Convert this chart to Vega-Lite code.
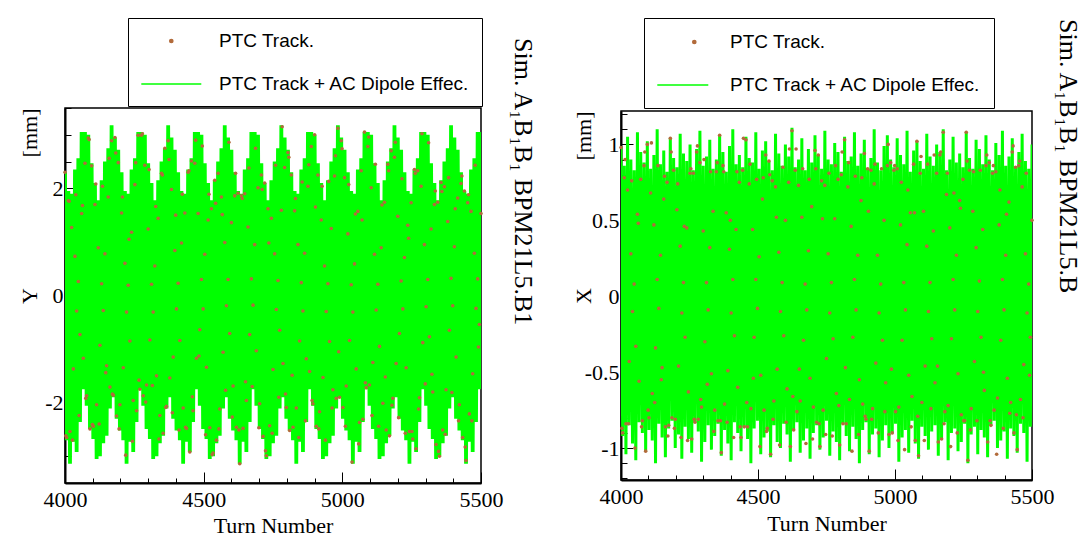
{
"$schema":"https://vega.github.io/schema/vega-lite/v6.json",
"background":"white",
"padding":{"left":17,"top":16,"right":2,"bottom":5},
"spacing":140,
"bounds":"flush",
"center":true,
"resolve":{"scale":{"x":"independent","y":"independent","color":"independent"},"legend":{"color":"independent"},"axis":{"x":"independent","y":"independent"}},
"datasets":{
"left":[
{"t":4000,"g":2.3,"p":2.3},{"t":4006,"g":-2.7,"p":-2.65},{"t":4012,"g":1.95,"p":1.77},{"t":4018,"g":-3.14,"p":-2.54},{"t":4024,"g":1.9,"p":1.27},{"t":4030,"g":-2.73,"p":-1.37},{"t":4036,"g":2.35,"p":0.73},{"t":4042,"g":-2.92,"p":-0.29},{"t":4048,"g":2.56,"p":0.26},{"t":4054,"g":-2.36,"p":-0.73},
{"t":4060,"g":3.05,"p":1.53},{"t":4066,"g":-1.75,"p":-1.17},{"t":4072,"g":3.05,"p":2.47},{"t":4078,"g":-2.06,"p":-1.87},{"t":4084,"g":3.0,"p":2.94},{"t":4090,"g":-2.49,"p":-2.49},{"t":4096,"g":2.47,"p":2.42},{"t":4102,"g":-2.68,"p":-2.44},{"t":4108,"g":2.1,"p":1.7},{"t":4114,"g":-3.05,"p":-2.04},
{"t":4120,"g":1.78,"p":0.89},{"t":4126,"g":-3.0,"p":-0.93},{"t":4132,"g":2.15,"p":0.22},{"t":4138,"g":-2.76,"p":-0.28},{"t":4144,"g":2.5,"p":0.78},{"t":4150,"g":-2.62,"p":-1.31},{"t":4156,"g":2.75,"p":1.84},{"t":4162,"g":-2.11,"p":-1.71},{"t":4168,"g":3.18,"p":2.89},{"t":4174,"g":-1.9,"p":-1.86},
{"t":4180,"g":2.95,"p":2.95},{"t":4186,"g":-2.3,"p":-2.25},{"t":4192,"g":2.72,"p":2.48},{"t":4198,"g":-2.52,"p":-2.04},{"t":4204,"g":2.3,"p":1.54},{"t":4210,"g":-2.7,"p":-1.35},{"t":4216,"g":1.95,"p":0.6},{"t":4222,"g":-3.14,"p":-0.31},{"t":4228,"g":1.9,"p":0.19},{"t":4234,"g":-2.73,"p":-0.85},
{"t":4240,"g":2.35,"p":1.18},{"t":4246,"g":-2.92,"p":-1.96},{"t":4252,"g":2.56,"p":2.07},{"t":4258,"g":-2.36,"p":-2.15},{"t":4264,"g":3.05,"p":2.99},{"t":4270,"g":-1.75,"p":-1.75},{"t":4276,"g":3.05,"p":2.99},{"t":4282,"g":-2.06,"p":-1.87},{"t":4288,"g":3.0,"p":2.43},{"t":4294,"g":-2.49,"p":-1.67},
{"t":4300,"g":2.47,"p":1.24},{"t":4306,"g":-2.68,"p":-0.83},{"t":4312,"g":2.1,"p":0.21},{"t":4318,"g":-3.05,"p":-0.31},{"t":4324,"g":1.78,"p":0.55},{"t":4330,"g":-3.0,"p":-1.5},{"t":4336,"g":2.15,"p":1.44},{"t":4342,"g":-2.76,"p":-2.24},{"t":4348,"g":2.5,"p":2.28},{"t":4354,"g":-2.62,"p":-2.57},
{"t":4360,"g":2.75,"p":2.75},{"t":4366,"g":-2.11,"p":-2.07},{"t":4372,"g":3.18,"p":2.89},{"t":4378,"g":-1.9,"p":-1.54},{"t":4384,"g":2.95,"p":1.98},{"t":4390,"g":-2.3,"p":-1.15},{"t":4396,"g":2.72,"p":0.84},{"t":4402,"g":-2.52,"p":-0.25},{"t":4408,"g":2.3,"p":0.23},{"t":4414,"g":-2.7,"p":-0.84},
{"t":4420,"g":1.95,"p":0.98},{"t":4426,"g":-3.14,"p":-2.1},{"t":4432,"g":1.9,"p":1.54},{"t":4438,"g":-2.73,"p":-2.48},{"t":4444,"g":2.35,"p":2.3},{"t":4450,"g":-2.92,"p":-2.92},{"t":4456,"g":2.56,"p":2.51},{"t":4462,"g":-2.36,"p":-2.15},{"t":4468,"g":3.05,"p":2.47},{"t":4474,"g":-1.75,"p":-1.17},
{"t":4480,"g":3.05,"p":1.53},{"t":4486,"g":-2.06,"p":-0.64},{"t":4492,"g":3.0,"p":0.3},{"t":4498,"g":-2.49,"p":-0.25},{"t":4504,"g":2.47,"p":0.77},{"t":4510,"g":-2.68,"p":-1.34},{"t":4516,"g":2.1,"p":1.41},{"t":4522,"g":-3.05,"p":-2.47},{"t":4528,"g":1.78,"p":1.62},{"t":4534,"g":-3.0,"p":-2.94},
{"t":4540,"g":2.15,"p":2.15},{"t":4546,"g":-2.76,"p":-2.7},{"t":4552,"g":2.5,"p":2.28},{"t":4558,"g":-2.62,"p":-2.12},{"t":4564,"g":2.75,"p":1.84},{"t":4570,"g":-2.11,"p":-1.06},{"t":4576,"g":3.18,"p":0.99},{"t":4582,"g":-1.9,"p":-0.19},{"t":4588,"g":2.95,"p":0.3},{"t":4594,"g":-2.3,"p":-0.71},
{"t":4600,"g":2.72,"p":1.36},{"t":4606,"g":-2.52,"p":-1.69},{"t":4612,"g":2.3,"p":1.86},{"t":4618,"g":-2.7,"p":-2.46},{"t":4624,"g":1.95,"p":1.91},{"t":4630,"g":-3.14,"p":-3.14},{"t":4636,"g":1.9,"p":1.86},{"t":4642,"g":-2.73,"p":-2.48},{"t":4648,"g":2.35,"p":1.9},{"t":4654,"g":-2.92,"p":-1.96},
{"t":4660,"g":2.56,"p":1.28},{"t":4666,"g":-2.36,"p":-0.73},{"t":4672,"g":3.05,"p":0.31},{"t":4678,"g":-1.75,"p":-0.18},{"t":4684,"g":3.05,"p":0.95},{"t":4690,"g":-2.06,"p":-1.03},{"t":4696,"g":3.0,"p":2.01},{"t":4702,"g":-2.49,"p":-2.02},{"t":4708,"g":2.47,"p":2.25},{"t":4714,"g":-2.68,"p":-2.63},
{"t":4720,"g":2.1,"p":2.1},{"t":4726,"g":-3.05,"p":-2.99},{"t":4732,"g":1.78,"p":1.62},{"t":4738,"g":-3.0,"p":-2.43},{"t":4744,"g":2.15,"p":1.44},{"t":4750,"g":-2.76,"p":-1.38},{"t":4756,"g":2.5,"p":0.78},{"t":4762,"g":-2.62,"p":-0.26},{"t":4768,"g":2.75,"p":0.28},{"t":4774,"g":-2.11,"p":-0.65},
{"t":4780,"g":3.18,"p":1.59},{"t":4786,"g":-1.9,"p":-1.27},{"t":4792,"g":2.95,"p":2.39},{"t":4798,"g":-2.3,"p":-2.09},{"t":4804,"g":2.72,"p":2.67},{"t":4810,"g":-2.52,"p":-2.52},{"t":4816,"g":2.3,"p":2.25},{"t":4822,"g":-2.7,"p":-2.46},{"t":4828,"g":1.95,"p":1.58},{"t":4834,"g":-3.14,"p":-2.1},
{"t":4840,"g":1.9,"p":0.95},{"t":4846,"g":-2.73,"p":-0.85},{"t":4852,"g":2.35,"p":0.24},{"t":4858,"g":-2.92,"p":-0.29},{"t":4864,"g":2.56,"p":0.79},{"t":4870,"g":-2.36,"p":-1.18},{"t":4876,"g":3.05,"p":2.04},{"t":4882,"g":-1.75,"p":-1.42},{"t":4888,"g":3.05,"p":2.78},{"t":4894,"g":-2.06,"p":-2.02},
{"t":4900,"g":3.0,"p":3.0},{"t":4906,"g":-2.49,"p":-2.44},{"t":4912,"g":2.47,"p":2.25},{"t":4918,"g":-2.68,"p":-2.17},{"t":4924,"g":2.1,"p":1.41},{"t":4930,"g":-3.05,"p":-1.53},{"t":4936,"g":1.78,"p":0.55},{"t":4942,"g":-3.0,"p":-0.3},{"t":4948,"g":2.15,"p":0.22},{"t":4954,"g":-2.76,"p":-0.86},
{"t":4960,"g":2.5,"p":1.25},{"t":4966,"g":-2.62,"p":-1.76},{"t":4972,"g":2.75,"p":2.23},{"t":4978,"g":-2.11,"p":-1.92},{"t":4984,"g":3.18,"p":3.12},{"t":4990,"g":-1.9,"p":-1.9},{"t":4996,"g":2.95,"p":2.89},{"t":5002,"g":-2.3,"p":-2.09},{"t":5008,"g":2.72,"p":2.2},{"t":5014,"g":-2.52,"p":-1.69},
{"t":5020,"g":2.3,"p":1.15},{"t":5026,"g":-2.7,"p":-0.84},{"t":5032,"g":1.95,"p":0.2},{"t":5038,"g":-3.14,"p":-0.31},{"t":5044,"g":1.9,"p":0.59},{"t":5050,"g":-2.73,"p":-1.37},{"t":5056,"g":2.35,"p":1.57},{"t":5062,"g":-2.92,"p":-2.37},{"t":5068,"g":2.56,"p":2.33},{"t":5074,"g":-2.36,"p":-2.31},
{"t":5080,"g":3.05,"p":3.05},{"t":5086,"g":-1.75,"p":-1.72},{"t":5092,"g":3.05,"p":2.78},{"t":5098,"g":-2.06,"p":-1.67},{"t":5104,"g":3.0,"p":2.01},{"t":5110,"g":-2.49,"p":-1.25},{"t":5116,"g":2.47,"p":0.77},{"t":5122,"g":-2.68,"p":-0.27},{"t":5128,"g":2.1,"p":0.21},{"t":5134,"g":-3.05,"p":-0.95},
{"t":5140,"g":1.78,"p":0.89},{"t":5146,"g":-3.0,"p":-2.01},{"t":5152,"g":2.15,"p":1.74},{"t":5158,"g":-2.76,"p":-2.51},{"t":5164,"g":2.5,"p":2.45},{"t":5170,"g":-2.62,"p":-2.62},{"t":5176,"g":2.75,"p":2.7},{"t":5182,"g":-2.11,"p":-1.92},{"t":5188,"g":3.18,"p":2.58},{"t":5194,"g":-1.9,"p":-1.27},
{"t":5200,"g":2.95,"p":1.48},{"t":5206,"g":-2.3,"p":-0.71},{"t":5212,"g":2.72,"p":0.27},{"t":5218,"g":-2.52,"p":-0.25},{"t":5224,"g":2.3,"p":0.71},{"t":5230,"g":-2.7,"p":-1.35},{"t":5236,"g":1.95,"p":1.31},{"t":5242,"g":-3.14,"p":-2.54},{"t":5248,"g":1.9,"p":1.73},{"t":5254,"g":-2.73,"p":-2.68},
{"t":5260,"g":2.35,"p":2.35},{"t":5266,"g":-2.92,"p":-2.86},{"t":5272,"g":2.56,"p":2.33},{"t":5278,"g":-2.36,"p":-1.91},{"t":5284,"g":3.05,"p":2.04},{"t":5290,"g":-1.75,"p":-0.88},{"t":5296,"g":3.05,"p":0.95},{"t":5302,"g":-2.06,"p":-0.21},{"t":5308,"g":3.0,"p":0.3},{"t":5314,"g":-2.49,"p":-0.77},
{"t":5320,"g":2.47,"p":1.24},{"t":5326,"g":-2.68,"p":-1.8},{"t":5332,"g":2.1,"p":1.7},{"t":5338,"g":-3.05,"p":-2.78},{"t":5344,"g":1.78,"p":1.74},{"t":5350,"g":-3.0,"p":-3.0},{"t":5356,"g":2.15,"p":2.11},{"t":5362,"g":-2.76,"p":-2.51},{"t":5368,"g":2.5,"p":2.03},{"t":5374,"g":-2.62,"p":-1.76},
{"t":5380,"g":2.75,"p":1.38},{"t":5386,"g":-2.11,"p":-0.65},{"t":5392,"g":3.18,"p":0.32},{"t":5398,"g":-1.9,"p":-0.19},{"t":5404,"g":2.95,"p":0.91},{"t":5410,"g":-2.3,"p":-1.15},{"t":5416,"g":2.72,"p":1.82},{"t":5422,"g":-2.52,"p":-2.04},{"t":5428,"g":2.3,"p":2.09},{"t":5434,"g":-2.7,"p":-2.65},
{"t":5440,"g":1.95,"p":1.95},{"t":5446,"g":-3.14,"p":-3.08},{"t":5452,"g":1.9,"p":1.73},{"t":5458,"g":-2.73,"p":-2.21},{"t":5464,"g":2.35,"p":1.57},{"t":5470,"g":-2.92,"p":-1.46},{"t":5476,"g":2.56,"p":0.79},{"t":5482,"g":-2.36,"p":-0.24},{"t":5488,"g":3.05,"p":0.31},{"t":5494,"g":-1.75,"p":-0.54},
{"t":5500,"g":3.05,"p":1.53}
],
"left2":[
{"t":4003,"p":-2.62},{"t":4015,"p":1.76},{"t":4027,"p":-2.7},{"t":4039,"p":1.88},{"t":4051,"p":-2.24},{"t":4063,"p":1.68},{"t":4075,"p":-1.92},{"t":4087,"p":2.91},{"t":4099,"p":-2.41},{"t":4111,"p":2.08},
{"t":4123,"p":-2.4},{"t":4135,"p":2.04},{"t":4147,"p":-1.44},{"t":4159,"p":2.56},{"t":4171,"p":-1.84},{"t":4183,"p":2.66},{"t":4195,"p":-2.49},{"t":4207,"p":1.84},{"t":4219,"p":-2.98},{"t":4231,"p":1.05},
{"t":4243,"p":-2.72},{"t":4255,"p":2.48},{"t":4267,"p":-1.58},{"t":4279,"p":3.02},{"t":4291,"p":-1.99},{"t":4303,"p":2.35},{"t":4315,"p":-1.68},{"t":4327,"p":1.66},{"t":4339,"p":-2.68},{"t":4351,"p":2.25},
{"t":4363,"p":-2.09},{"t":4375,"p":2.54},{"t":4387,"p":-2.19},{"t":4399,"p":1.5},{"t":4411,"p":-2.51},{"t":4423,"p":1.89},{"t":4435,"p":-2.46},{"t":4447,"p":2.33},{"t":4459,"p":-1.89},{"t":4471,"p":2.9},
{"t":4483,"p":-1.13},{"t":4495,"p":2.79},{"t":4507,"p":-2.6},{"t":4519,"p":1.89},{"t":4531,"p":-2.97},{"t":4543,"p":1.72},{"t":4555,"p":-2.49},{"t":4567,"p":1.51},{"t":4579,"p":-1.77},{"t":4591,"p":2.86},
{"t":4603,"p":-2.27},{"t":4615,"p":2.28},{"t":4627,"p":-2.51},{"t":4639,"p":1.81},{"t":4651,"p":-1.61},{"t":4663,"p":2.38},{"t":4675,"p":-1.7},{"t":4687,"p":2.75},{"t":4699,"p":-2.47},{"t":4711,"p":1.98},
{"t":4723,"p":-2.9},{"t":4735,"p":0.98},{"t":4747,"p":-2.57},{"t":4759,"p":2.43},{"t":4771,"p":-1.9},{"t":4783,"p":3.15},{"t":4795,"p":-1.84},{"t":4807,"p":2.58},{"t":4819,"p":-1.49},{"t":4831,"p":1.81},
{"t":4843,"p":-2.65},{"t":4855,"p":2.12},{"t":4867,"p":-2.34},{"t":4879,"p":2.44},{"t":4891,"p":-1.96},{"t":4903,"p":1.65},{"t":4915,"p":-2.49},{"t":4927,"p":2.04},{"t":4939,"p":-2.7},{"t":4951,"p":2.13},
{"t":4963,"p":-2.1},{"t":4975,"p":2.61},{"t":4987,"p":-1.05},{"t":4999,"p":2.74},{"t":5011,"p":-2.44},{"t":5023,"p":2.07},{"t":5035,"p":-3.11},{"t":5047,"p":1.52},{"t":5059,"p":-2.77},{"t":5071,"p":1.41},
{"t":5083,"p":-1.63},{"t":5095,"p":2.96},{"t":5107,"p":-2.24},{"t":5119,"p":2.45},{"t":5131,"p":-2.44},{"t":5143,"p":1.69},{"t":5155,"p":-1.52},{"t":5167,"p":2.33},{"t":5179,"p":-2.05},{"t":5191,"p":2.86},
{"t":5203,"p":-2.28},{"t":5215,"p":2.18},{"t":5227,"p":-2.57},{"t":5239,"p":1.07},{"t":5251,"p":-2.54},{"t":5263,"p":2.28},{"t":5275,"p":-2.12},{"t":5287,"p":3.02},{"t":5299,"p":-1.65},{"t":5311,"p":2.85},
{"t":5323,"p":-1.47},{"t":5335,"p":1.95},{"t":5347,"p":-2.91},{"t":5359,"p":1.94},{"t":5371,"p":-2.59},{"t":5383,"p":2.2},{"t":5395,"p":-1.81},{"t":5407,"p":1.62},{"t":5419,"p":-2.34},{"t":5431,"p":2.23},
{"t":5443,"p":-2.83},{"t":5455,"p":1.88},{"t":5467,"p":-2.34},{"t":5479,"p":2.43},{"t":5491,"p":-0.96}
],
"right":[
{"t":4000,"g":0.98,"p":0.98},{"t":4006,"g":-0.92,"p":-0.9},{"t":4012,"g":0.86,"p":0.78},{"t":4018,"g":-1.04,"p":-0.84},{"t":4024,"g":1.05,"p":0.7},{"t":4030,"g":-0.85,"p":-0.43},{"t":4036,"g":0.9,"p":0.28},{"t":4042,"g":-0.97,"p":-0.1},{"t":4048,"g":0.83,"p":0.08},{"t":4054,"g":-1.08,"p":-0.33},
{"t":4060,"g":1.08,"p":0.54},{"t":4066,"g":-0.83,"p":-0.56},{"t":4072,"g":0.95,"p":0.77},{"t":4078,"g":-0.9,"p":-0.82},{"t":4084,"g":0.88,"p":0.86},{"t":4090,"g":-1.02,"p":-1.02},{"t":4096,"g":1.02,"p":1.0},{"t":4102,"g":-0.88,"p":-0.8},{"t":4108,"g":0.84,"p":0.68},{"t":4114,"g":-0.95,"p":-0.64},
{"t":4120,"g":0.93,"p":0.47},{"t":4126,"g":-1.1,"p":-0.34},{"t":4132,"g":1.1,"p":0.11},{"t":4138,"g":-0.84,"p":-0.08},{"t":4144,"g":0.87,"p":0.27},{"t":4150,"g":-0.93,"p":-0.47},{"t":4156,"g":0.96,"p":0.64},{"t":4162,"g":-1.06,"p":-0.86},{"t":4168,"g":0.82,"p":0.75},{"t":4174,"g":-0.87,"p":-0.85},
{"t":4180,"g":1.04,"p":1.04},{"t":4186,"g":-0.82,"p":-0.8},{"t":4192,"g":0.91,"p":0.83},{"t":4198,"g":-1.0,"p":-0.81},{"t":4204,"g":0.85,"p":0.57},{"t":4210,"g":-0.91,"p":-0.46},{"t":4216,"g":1.07,"p":0.33},{"t":4222,"g":-1.07,"p":-0.11},{"t":4228,"g":0.94,"p":0.09},{"t":4234,"g":-0.86,"p":-0.27},
{"t":4240,"g":0.89,"p":0.45},{"t":4246,"g":-0.94,"p":-0.63},{"t":4252,"g":1.0,"p":0.81},{"t":4258,"g":-1.03,"p":-0.94},{"t":4264,"g":0.83,"p":0.81},{"t":4270,"g":-0.83,"p":-0.83},{"t":4276,"g":0.97,"p":0.95},{"t":4282,"g":-0.89,"p":-0.81},{"t":4288,"g":1.09,"p":0.88},{"t":4294,"g":-1.09,"p":-0.73},
{"t":4300,"g":0.86,"p":0.43},{"t":4306,"g":-0.96,"p":-0.3},{"t":4312,"g":0.92,"p":0.09},{"t":4318,"g":-0.85,"p":-0.09},{"t":4324,"g":1.03,"p":0.32},{"t":4330,"g":-1.01,"p":-0.51},{"t":4336,"g":0.84,"p":0.56},{"t":4342,"g":-0.92,"p":-0.75},{"t":4348,"g":0.9,"p":0.82},{"t":4354,"g":-0.84,"p":-0.82},
{"t":4360,"g":1.06,"p":1.06},{"t":4366,"g":-1.05,"p":-1.03},{"t":4372,"g":0.95,"p":0.86},{"t":4378,"g":-0.88,"p":-0.71},{"t":4384,"g":0.82,"p":0.55},{"t":4390,"g":-0.97,"p":-0.49},{"t":4396,"g":0.99,"p":0.31},{"t":4402,"g":-1.08,"p":-0.11},{"t":4408,"g":1.1,"p":0.11},{"t":4414,"g":-0.83,"p":-0.26},
{"t":4420,"g":0.87,"p":0.44},{"t":4426,"g":-0.9,"p":-0.6},{"t":4432,"g":0.93,"p":0.75},{"t":4438,"g":-1.02,"p":-0.93},{"t":4444,"g":0.85,"p":0.83},{"t":4450,"g":-0.86,"p":-0.86},{"t":4456,"g":1.05,"p":1.03},{"t":4462,"g":-0.94,"p":-0.86},{"t":4468,"g":0.91,"p":0.74},{"t":4474,"g":-1.1,"p":-0.74},
{"t":4480,"g":0.88,"p":0.44},{"t":4486,"g":-0.87,"p":-0.27},{"t":4492,"g":1.08,"p":0.11},{"t":4498,"g":-0.82,"p":-0.08},{"t":4504,"g":0.84,"p":0.26},{"t":4510,"g":-1.04,"p":-0.52},{"t":4516,"g":0.96,"p":0.64},{"t":4522,"g":-0.93,"p":-0.75},{"t":4528,"g":1.02,"p":0.93},{"t":4534,"g":-0.89,"p":-0.87},
{"t":4540,"g":0.89,"p":0.89},{"t":4546,"g":-1.06,"p":-1.04},{"t":4552,"g":0.83,"p":0.76},{"t":4558,"g":-0.85,"p":-0.69},{"t":4564,"g":1.07,"p":0.72},{"t":4570,"g":-0.96,"p":-0.48},{"t":4576,"g":0.94,"p":0.29},{"t":4582,"g":-1.0,"p":-0.1},{"t":4588,"g":0.86,"p":0.09},{"t":4594,"g":-0.84,"p":-0.26},
{"t":4600,"g":1.0,"p":0.5},{"t":4606,"g":-0.91,"p":-0.61},{"t":4612,"g":0.92,"p":0.75},{"t":4618,"g":-1.09,"p":-0.99},{"t":4624,"g":1.11,"p":1.09},{"t":4630,"g":-0.88,"p":-0.88},{"t":4636,"g":0.85,"p":0.83},{"t":4642,"g":-0.83,"p":-0.76},{"t":4648,"g":0.9,"p":0.73},{"t":4654,"g":-1.03,"p":-0.69},
{"t":4660,"g":1.04,"p":0.52},{"t":4666,"g":-0.95,"p":-0.29},{"t":4672,"g":0.83,"p":0.08},{"t":4678,"g":-0.87,"p":-0.09},{"t":4684,"g":0.97,"p":0.3},{"t":4690,"g":-1.07,"p":-0.54},{"t":4696,"g":0.88,"p":0.59},{"t":4702,"g":-0.9,"p":-0.73},{"t":4708,"g":1.06,"p":0.96},{"t":4714,"g":-0.85,"p":-0.83},
{"t":4720,"g":0.93,"p":0.93},{"t":4726,"g":-1.01,"p":-0.99},{"t":4732,"g":0.84,"p":0.76},{"t":4738,"g":-0.93,"p":-0.75},{"t":4744,"g":1.09,"p":0.73},{"t":4750,"g":-0.82,"p":-0.41},{"t":4756,"g":0.9,"p":0.28},{"t":4762,"g":-1.05,"p":-0.11},{"t":4768,"g":0.87,"p":0.09},{"t":4774,"g":-0.89,"p":-0.28},
{"t":4780,"g":1.01,"p":0.51},{"t":4786,"g":-0.96,"p":-0.64},{"t":4792,"g":0.95,"p":0.77},{"t":4798,"g":-1.08,"p":-0.98},{"t":4804,"g":0.82,"p":0.8},{"t":4810,"g":-0.84,"p":-0.84},{"t":4816,"g":1.05,"p":1.03},{"t":4822,"g":-0.92,"p":-0.84},{"t":4828,"g":0.89,"p":0.72},{"t":4834,"g":-1.02,"p":-0.68},
{"t":4840,"g":0.92,"p":0.46},{"t":4846,"g":-0.86,"p":-0.27},{"t":4852,"g":1.08,"p":0.11},{"t":4858,"g":-0.94,"p":-0.09},{"t":4864,"g":0.86,"p":0.27},{"t":4870,"g":-1.1,"p":-0.55},{"t":4876,"g":0.94,"p":0.63},{"t":4882,"g":-0.88,"p":-0.71},{"t":4888,"g":1.03,"p":0.94},{"t":4894,"g":-0.83,"p":-0.81},
{"t":4900,"g":0.84,"p":0.84},{"t":4906,"g":-1.04,"p":-1.02},{"t":4912,"g":0.91,"p":0.83},{"t":4918,"g":-0.91,"p":-0.74},{"t":4924,"g":1.1,"p":0.74},{"t":4930,"g":-0.87,"p":-0.44},{"t":4936,"g":0.88,"p":0.27},{"t":4942,"g":-1.06,"p":-0.11},{"t":4948,"g":0.83,"p":0.08},{"t":4954,"g":-0.95,"p":-0.29},
{"t":4960,"g":0.99,"p":0.5},{"t":4966,"g":-0.85,"p":-0.57},{"t":4972,"g":1.06,"p":0.86},{"t":4978,"g":-1.0,"p":-0.91},{"t":4984,"g":0.9,"p":0.88},{"t":4990,"g":-0.9,"p":-0.9},{"t":4996,"g":0.85,"p":0.83},{"t":5002,"g":-0.84,"p":-0.76},{"t":5008,"g":1.04,"p":0.84},{"t":5014,"g":-1.09,"p":-0.73},
{"t":5020,"g":0.93,"p":0.47},{"t":5026,"g":-0.93,"p":-0.29},{"t":5032,"g":0.87,"p":0.09},{"t":5038,"g":-0.88,"p":-0.09},{"t":5044,"g":1.09,"p":0.34},{"t":5050,"g":-1.03,"p":-0.52},{"t":5056,"g":0.82,"p":0.55},{"t":5062,"g":-0.82,"p":-0.66},{"t":5068,"g":0.96,"p":0.87},{"t":5074,"g":-0.97,"p":-0.95},
{"t":5080,"g":1.02,"p":1.02},{"t":5086,"g":-1.07,"p":-1.05},{"t":5092,"g":0.89,"p":0.81},{"t":5098,"g":-0.86,"p":-0.7},{"t":5104,"g":0.84,"p":0.56},{"t":5110,"g":-0.92,"p":-0.46},{"t":5116,"g":1.07,"p":0.33},{"t":5122,"g":-1.01,"p":-0.1},{"t":5128,"g":0.92,"p":0.09},{"t":5134,"g":-0.89,"p":-0.28},
{"t":5140,"g":0.86,"p":0.43},{"t":5146,"g":-0.85,"p":-0.57},{"t":5152,"g":1.0,"p":0.81},{"t":5158,"g":-1.05,"p":-0.96},{"t":5164,"g":0.95,"p":0.93},{"t":5170,"g":-0.94,"p":-0.94},{"t":5176,"g":1.1,"p":1.08},{"t":5182,"g":-0.83,"p":-0.76},{"t":5188,"g":0.83,"p":0.67},{"t":5194,"g":-1.08,"p":-0.72},
{"t":5200,"g":0.9,"p":0.45},{"t":5206,"g":-0.9,"p":-0.28},{"t":5212,"g":1.05,"p":0.11},{"t":5218,"g":-0.87,"p":-0.09},{"t":5224,"g":0.88,"p":0.27},{"t":5230,"g":-1.02,"p":-0.51},{"t":5236,"g":0.94,"p":0.63},{"t":5242,"g":-0.96,"p":-0.78},{"t":5248,"g":0.85,"p":0.77},{"t":5254,"g":-0.84,"p":-0.82},
{"t":5260,"g":1.08,"p":1.08},{"t":5266,"g":-1.1,"p":-1.08},{"t":5272,"g":0.91,"p":0.83},{"t":5278,"g":-0.91,"p":-0.74},{"t":5284,"g":0.84,"p":0.56},{"t":5290,"g":-0.86,"p":-0.43},{"t":5296,"g":1.03,"p":0.32},{"t":5302,"g":-1.04,"p":-0.1},{"t":5308,"g":0.97,"p":0.1},{"t":5314,"g":-0.88,"p":-0.27},
{"t":5320,"g":0.87,"p":0.44},{"t":5326,"g":-0.93,"p":-0.62},{"t":5332,"g":1.06,"p":0.86},{"t":5338,"g":-1.06,"p":-0.96},{"t":5344,"g":0.9,"p":0.88},{"t":5350,"g":-0.85,"p":-0.85},{"t":5356,"g":0.83,"p":0.81},{"t":5362,"g":-0.82,"p":-0.75},{"t":5368,"g":1.01,"p":0.82},{"t":5374,"g":-1.0,"p":-0.67},
{"t":5380,"g":0.93,"p":0.47},{"t":5386,"g":-0.95,"p":-0.29},{"t":5392,"g":1.09,"p":0.11},{"t":5398,"g":-0.89,"p":-0.09},{"t":5404,"g":0.86,"p":0.27},{"t":5410,"g":-1.07,"p":-0.54},{"t":5416,"g":0.92,"p":0.62},{"t":5422,"g":-0.87,"p":-0.7},{"t":5428,"g":1.04,"p":0.95},{"t":5434,"g":-0.92,"p":-0.9},
{"t":5440,"g":0.85,"p":0.85},{"t":5446,"g":-1.03,"p":-1.01},{"t":5452,"g":0.95,"p":0.86},{"t":5458,"g":-0.84,"p":-0.68},{"t":5464,"g":1.07,"p":0.72},{"t":5470,"g":-0.9,"p":-0.45},{"t":5476,"g":0.89,"p":0.28},{"t":5482,"g":-1.09,"p":-0.11},{"t":5488,"g":0.84,"p":0.08},{"t":5494,"g":-0.86,"p":-0.27},
{"t":5500,"g":1.0,"p":0.5}
],
"right2":[
{"t":4003,"p":-0.87},{"t":4015,"p":0.9},{"t":4027,"p":-0.84},{"t":4039,"p":0.76},{"t":4051,"p":-1.0},{"t":4063,"p":0.48},{"t":4075,"p":-0.86},{"t":4087,"p":0.95},{"t":4099,"p":-0.75},{"t":4111,"p":1.01},
{"t":4123,"p":-0.7},{"t":4135,"p":0.86},{"t":4147,"p":-0.55},{"t":4159,"p":0.79},{"t":4171,"p":-0.92},{"t":4183,"p":0.95},{"t":4195,"p":-0.87},{"t":4207,"p":0.74},{"t":4219,"p":-0.93},{"t":4231,"p":0.46},
{"t":4243,"p":-0.95},{"t":4255,"p":0.84},{"t":4267,"p":-0.81},{"t":4279,"p":0.99},{"t":4291,"p":-0.68},{"t":4303,"p":0.9},{"t":4315,"p":-0.58},{"t":4327,"p":0.82},{"t":4339,"p":-0.89},{"t":4351,"p":0.88},
{"t":4363,"p":-0.82},{"t":4375,"p":0.82},{"t":4387,"p":-0.83},{"t":4399,"p":0.5},{"t":4411,"p":-0.93},{"t":4423,"p":0.82},{"t":4435,"p":-0.86},{"t":4447,"p":1.04},{"t":4459,"p":-0.7},{"t":4471,"p":0.87},
{"t":4483,"p":-0.54},{"t":4495,"p":0.77},{"t":4507,"p":-0.99},{"t":4519,"p":0.78},{"t":4531,"p":-0.89},{"t":4543,"p":0.8},{"t":4555,"p":-0.81},{"t":4567,"p":0.52},{"t":4579,"p":-0.98},{"t":4591,"p":0.85},
{"t":4603,"p":-0.83},{"t":4615,"p":0.97},{"t":4627,"p":-0.66},{"t":4639,"p":0.97},{"t":4651,"p":-0.48},{"t":4663,"p":0.84},{"t":4675,"p":-0.97},{"t":4687,"p":0.77},{"t":4699,"p":-0.94},{"t":4711,"p":0.84},
{"t":4723,"p":-0.84},{"t":4735,"p":0.51},{"t":4747,"p":-0.91},{"t":4759,"p":0.81},{"t":4771,"p":-0.92},{"t":4783,"p":0.86},{"t":4795,"p":-0.72},{"t":4807,"p":0.95},{"t":4819,"p":-0.47},{"t":4831,"p":0.88},
{"t":4843,"p":-1.02},{"t":4855,"p":0.79},{"t":4867,"p":-0.91},{"t":4879,"p":0.78},{"t":4891,"p":-0.79},{"t":4903,"p":0.56},{"t":4915,"p":-0.81},{"t":4927,"p":0.87},{"t":4939,"p":-0.9},{"t":4951,"p":0.84},
{"t":4963,"p":-0.76},{"t":4975,"p":1.0},{"t":4987,"p":-0.48},{"t":4999,"p":0.86},{"t":5011,"p":-0.95},{"t":5023,"p":0.75},{"t":5035,"p":-1.01},{"t":5047,"p":0.7},{"t":5059,"p":-0.86},{"t":5071,"p":0.55},
{"t":5083,"p":-0.79},{"t":5095,"p":0.92},{"t":5107,"p":-0.95},{"t":5119,"p":0.87},{"t":5131,"p":-0.74},{"t":5143,"p":0.93},{"t":5155,"p":-0.46},{"t":5167,"p":0.95},{"t":5179,"p":-0.84},{"t":5191,"p":0.81},
{"t":5203,"p":-0.99},{"t":5215,"p":0.68},{"t":5227,"p":-0.9},{"t":5239,"p":0.58},{"t":5251,"p":-0.82},{"t":5263,"p":0.89},{"t":5275,"p":-0.88},{"t":5287,"p":0.82},{"t":5299,"p":-0.82},{"t":5311,"p":0.83},
{"t":5323,"p":-0.5},{"t":5335,"p":0.93},{"t":5347,"p":-0.82},{"t":5359,"p":0.86},{"t":5371,"p":-1.04},{"t":5383,"p":0.7},{"t":5395,"p":-0.87},{"t":5407,"p":0.54},{"t":5419,"p":-0.77},{"t":5431,"p":0.99},
{"t":5443,"p":-0.78},{"t":5455,"p":0.89},{"t":5467,"p":-0.8},{"t":5479,"p":0.81},{"t":5491,"p":-0.52}
]
},
"hconcat":[
{
"width":416,"height":375,
"title":{"text":"Sim. A₁B₁B₁ BPM21L5.B1","orient":"right","anchor":"start","frame":"group","offset":7,"dx":-70},
"resolve":{"axis":{"x":"independent","y":"independent"}},
"layer":[
{"data":{"name":"left"},"mark":{"type":"line","strokeWidth":3.8,"strokeJoin":"bevel","clip":true},
"encoding":{
"x":{"field":"t","type":"quantitative","scale":{"domain":[4000,5500],"nice":false,"zero":false},"axis":{"orient":"bottom","values":[4100,4200,4300,4400,4600,4700,4800,4900,5100,5200,5300,5400],"tickSize":-5,"labels":false,"domain":false,"grid":false,"title":null}},
"y":{"field":"g","type":"quantitative","scale":{"domain":[-3.5,3.5],"nice":false,"zero":false},"axis":{"orient":"left","values":[-3.5,-3,-2.5,-1.5,-1,-0.5,0.5,1,1.5,2.5,3,3.5],"tickSize":-6,"labels":false,"domain":false,"grid":false,"title":"[mm]","titleAnchor":"end","titleX":-29,"titleBaseline":"alphabetic"}},
"color":{"datum":"PTC Track + AC Dipole Effec.","type":"nominal","scale":{"domain":["PTC Track.","PTC Track + AC Dipole Effec."],"range":["#b26b3b","#00ff00"]},
"legend":{"orient":"none","legendX":63,"legendY":-90,"title":null,"direction":"vertical","padding":12,"strokeColor":"#000","fillColor":"#fff","labelFont":"Liberation Sans","labelFontSize":19,"labelColor":"#000","labelLimit":600,"labelOffset":57,"symbolSize":400,"rowPadding":22,"symbolStrokeWidth":1.5,
"encode":{"symbols":{"update":{"shape":{"signal":"datum.value==='PTC Track.'?'M1.87,0A0.16,0.16 0 1,0 2.19,0A0.16,0.16 0 1,0 1.87,0Z':'M-0.97,0H5.03'"},"size":{"value":400},"fill":{"signal":"datum.value==='PTC Track.'?'#b26b3b':'transparent'"},"stroke":{"signal":"datum.value==='PTC Track.'?'transparent':'#00ff00'"},"strokeWidth":{"value":1.5},"opacity":{"value":1}}}}}}
}},
{"data":{"name":"left"},"mark":{"type":"point","filled":true,"size":13,"opacity":1},
"encoding":{
"x":{"field":"t","type":"quantitative","axis":{"orient":"bottom","values":[4000,4500,5000,5500],"format":"d","tickSize":-11,"labelPadding":34,"labelBaseline":"alphabetic","labelFlush":false,"domain":true,"domainWidth":2,"grid":false,"title":"Turn Number","titleY":49,"titleBaseline":"alphabetic"}},
"y":{"field":"p","type":"quantitative","axis":{"orient":"left","values":[-2,0,2],"tickSize":-12,"labelPadding":14,"domain":true,"domainWidth":2,"grid":false,"title":"Y","titleX":-29,"titleBaseline":"alphabetic","labelExpr":"datum.value < 0 ? '-' + format(-datum.value, '') : format(datum.value, '')"}},
"color":{"datum":"PTC Track.","type":"nominal"}
}},
{"data":{"name":"left2"},"mark":{"type":"point","filled":true,"size":13,"opacity":1},
"encoding":{
"x":{"field":"t","type":"quantitative","axis":null},
"y":{"field":"p","type":"quantitative","axis":null},
"color":{"datum":"PTC Track.","type":"nominal"}
}}
]
},
{
"width":411,"height":369,
"title":{"text":"Sim. A₁B₁B₁ BPM21L5.B","orient":"right","anchor":"start","frame":"group","offset":1,"dx":-92},
"resolve":{"axis":{"x":"independent","y":"independent"}},
"layer":[
{"data":{"name":"right"},"mark":{"type":"line","strokeWidth":3,"strokeJoin":"bevel","clip":true},
"encoding":{
"x":{"field":"t","type":"quantitative","scale":{"domain":[4000,5500],"nice":false,"zero":false},"axis":{"orient":"bottom","values":[4100,4200,4300,4400,4600,4700,4800,4900,5100,5200,5300,5400],"tickSize":-5,"labels":false,"domain":false,"grid":false,"title":null}},
"y":{"field":"g","type":"quantitative","scale":{"domain":[-1.21,1.22],"nice":false,"zero":false},"axis":{"orient":"left","values":[-1.2,-1.1,-0.9,-0.8,-0.7,-0.6,-0.4,-0.3,-0.2,-0.1,0.1,0.2,0.3,0.4,0.6,0.7,0.8,0.9,1.1,1.2],"tickSize":-6,"labels":false,"domain":false,"grid":false,"title":"[mm]","titleAnchor":"end","titleX":-31,"titleBaseline":"alphabetic"}},
"color":{"datum":"PTC Track + AC Dipole Effec.","type":"nominal","scale":{"domain":["PTC Track.","PTC Track + AC Dipole Effec."],"range":["#b26b3b","#00ff00"]},
"legend":{"orient":"none","legendX":23,"legendY":-93,"title":null,"direction":"vertical","padding":13,"strokeColor":"#000","fillColor":"#fff","labelFont":"Liberation Sans","labelFontSize":19,"labelColor":"#000","labelLimit":600,"labelOffset":51,"symbolSize":400,"rowPadding":22,"symbolStrokeWidth":1.5,
"encode":{"symbols":{"update":{"shape":{"signal":"datum.value==='PTC Track.'?'M2.47,0A0.16,0.16 0 1,0 2.79,0A0.16,0.16 0 1,0 2.47,0Z':'M-1.07,0H4.03'"},"size":{"value":400},"fill":{"signal":"datum.value==='PTC Track.'?'#b26b3b':'transparent'"},"stroke":{"signal":"datum.value==='PTC Track.'?'transparent':'#00ff00'"},"strokeWidth":{"value":1.5},"opacity":{"value":1}}}}}}
}},
{"data":{"name":"right"},"mark":{"type":"point","filled":true,"size":13,"opacity":1},
"encoding":{
"x":{"field":"t","type":"quantitative","axis":{"orient":"bottom","values":[4000,4500,5000,5500],"format":"d","tickSize":-11,"labelPadding":34,"labelBaseline":"alphabetic","labelFlush":false,"domain":true,"domainWidth":2,"grid":false,"title":"Turn Number","titleY":50,"titleBaseline":"alphabetic"}},
"y":{"field":"p","type":"quantitative","axis":{"orient":"left","values":[-1,-0.5,0,0.5,1],"tickSize":-12,"labelPadding":14,"domain":true,"domainWidth":2,"grid":false,"title":"X","titleX":-31,"titleBaseline":"alphabetic","labelExpr":"datum.value < 0 ? '-' + format(-datum.value, '') : format(datum.value, '')"}},
"color":{"datum":"PTC Track.","type":"nominal"}
}},
{"data":{"name":"right2"},"mark":{"type":"point","filled":true,"size":13,"opacity":1},
"encoding":{
"x":{"field":"t","type":"quantitative","axis":null},
"y":{"field":"p","type":"quantitative","axis":null},
"color":{"datum":"PTC Track.","type":"nominal"}
}}
]
}
],
"config":{
"view":{"stroke":"#000","strokeWidth":1.5},
"axis":{"labelFont":"Liberation Serif","labelFontSize":22,"labelColor":"#000","titleFont":"Liberation Serif","titleFontSize":22,"titleFontWeight":"normal","titleColor":"#000","tickColor":"#000","tickWidth":1,"domainColor":"#000"},
"title":{"font":"Liberation Serif","fontSize":26,"fontWeight":"normal","color":"#000"}
}
}
